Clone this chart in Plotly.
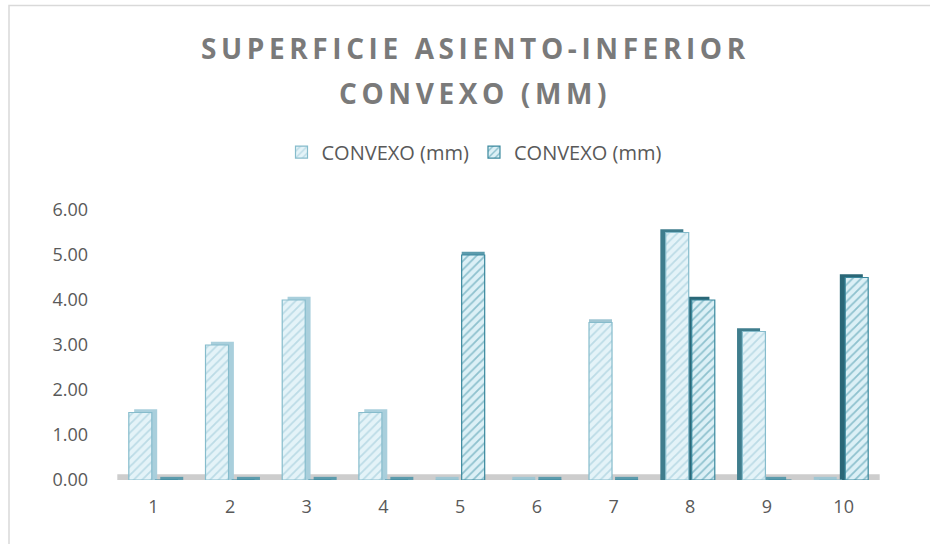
import plotly.graph_objects as go

# Measurements per sample position
categories = ["1", "2", "3", "4", "5", "6", "7", "8", "9", "10"]
convexo_a = [1.5, 3.0, 4.0, 1.5, 0.0, 0.0, 3.5, 5.5, 3.3, 0.0]
convexo_b = [0.0, 0.0, 0.0, 0.0, 5.0, 0.0, 0.0, 4.0, 0.0, 4.5]
series_name = "CONVEXO (mm)"
title_lines = ["SUPERFICIE ASIENTO-INFERIOR", "CONVEXO (MM)"]
y_ticks = [0, 1, 2, 3, 4, 5, 6]

# Canvas and plot-area geometry (pixels)
FIG_W, FIG_H = 930, 544
M_L, M_R, M_T, M_B = 115, 48, 210, 63.5
PW = FIG_W - M_L - M_R
PH = FIG_H - M_T - M_B


def px_x(px):
    return (px - M_L) / PW


def px_y(py):
    return (FIG_H - M_B - py) / PH


FONT = "Open Sans"
BAR_W = 0.30
DEPTH_X = 0.07   # side face width (category units)
DEPTH_Y = 0.07   # top face height (value units)
n = len(categories)
# perspective: left-hand columns show their right side, right-hand ones their
# left side, the middle ones only their top
side_dir = [1, 1, 1, 1, 0, 0, 0, -1, -1, -1]

styles = {
    "a": dict(offset=-0.32, fill="#e4f3f8", hatch="#93c4d3", line="#86bccc",
              side={1: "#a9cfdc", 0: "#9fc6d3", -1: "#3f7d8d"}),
    "b": dict(offset=0.02, fill="#dcf0f6", hatch="#3f91a6", line="#3a889d",
              side={1: "#6aa5b5", 0: "#5c9bac", -1: "#2a6777"}),
}

fig = go.Figure()

# depth (side + top) faces drawn first, behind the front faces
for key, vals in (("a", convexo_a), ("b", convexo_b)):
    st = styles[key]
    fig.add_trace(go.Bar(
        x=categories,
        y=[v + DEPTH_Y for v in vals],
        offset=[st["offset"] + DEPTH_X * d for d in side_dir],
        width=BAR_W,
        marker=dict(color=[st["side"][d] if v > 0 else st["side"][0]
                           for d, v in zip(side_dir, vals)],
                    line=dict(width=0)),
        showlegend=False,
        hoverinfo="skip",
    ))

# front faces with diagonal hatching
for key, vals in (("a", convexo_a), ("b", convexo_b)):
    st = styles[key]
    fig.add_trace(go.Bar(
        x=categories,
        y=vals,
        name=series_name,
        offset=st["offset"],
        width=BAR_W,
        marker=dict(
            color=st["fill"],
            line=dict(color=st["line"], width=1.2),
            pattern=dict(shape="/", fgcolor=st["hatch"], bgcolor=st["fill"],
                         size=6, solidity=0.3, fillmode="overlay"),
        ),
    ))

# floor strip under the bars
fig.add_shape(type="rect", xref="x domain", yref="y", x0=0.003, x1=0.997,
              y0=0, y1=0.13, fillcolor="#cdcdcd", line=dict(width=0), layer="below")

# outer chart frame (top and left edges visible)
fig.add_shape(type="rect", xref="paper", yref="paper",
              x0=px_x(9), x1=px_x(FIG_W + 10), y0=px_y(FIG_H + 10), y1=px_y(5),
              line=dict(color="#d9d9d9", width=1.5), fillcolor="rgba(0,0,0,0)")

# two-line spaced title
for text, cy in zip(title_lines, (48, 93)):
    fig.add_annotation(
        text=f'<span style="letter-spacing:4.6px">{text}</span>',
        xref="paper", yref="paper", x=px_x(475), y=px_y(cy),
        xanchor="center", yanchor="middle", showarrow=False,
        font=dict(family=FONT, size=28, color="#7a7a7a", weight=700),
    )

fig.update_layout(
    width=FIG_W, height=FIG_H,
    margin=dict(l=M_L, r=M_R, t=M_T, b=M_B, pad=0),
    paper_bgcolor="white", plot_bgcolor="white",
    barmode="overlay",
    showlegend=True,
    legend=dict(orientation="h", x=px_x(474), xanchor="center",
                y=px_y(152), yanchor="middle",
                font=dict(family=FONT, size=20, color="#595959"),
                itemwidth=30, tracegroupgap=0),
    font=dict(family=FONT, color="#595959"),
)
fig.update_xaxes(type="category", range=[-0.5, n - 0.5], showgrid=False,
                 showline=False, zeroline=False, ticks="",
                 tickfont=dict(family=FONT, size=18, color="#595959"),
                 ticklabelstandoff=14)
fig.update_yaxes(range=[0, 6], tickvals=y_ticks, tickformat=".2f",
                 showgrid=False, showline=False, zeroline=False, ticks="",
                 tickfont=dict(family=FONT, size=18, color="#595959"),
                 ticklabelstandoff=26)

fig.write_html("out.html")
